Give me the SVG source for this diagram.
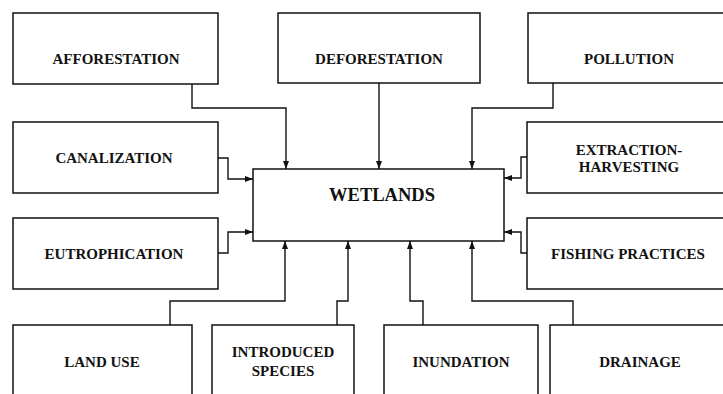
<svg xmlns="http://www.w3.org/2000/svg" width="723" height="394" viewBox="0 0 723 394">
<defs>
<marker id="arr" markerUnits="userSpaceOnUse" markerWidth="8" markerHeight="6" refX="8" refY="3" orient="auto">
<path d="M0,0 L8,3 L0,6 z" fill="#111"/>
</marker>
<style>
.box{fill:#fff;stroke:#111;stroke-width:1.5}
.lbl{font-family:"Liberation Serif","Times New Roman",serif;font-weight:bold;font-size:15px;fill:#111;text-anchor:middle}
.big{font-size:18.5px}
.con{fill:none;stroke:#111;stroke-width:1.4;marker-end:url(#arr)}
</style>
</defs>
<rect width="723" height="394" fill="#fff"/>
<g id="connectors">
<path class="con" d="M192,84 V108 H286 V169"/>
<path class="con" d="M379,83 V169"/>
<path class="con" d="M553,83 V108 H472 V169"/>
<path class="con" d="M218,158 H228 V179 H253"/>
<path class="con" d="M218,253 H228 V232 H253"/>
<path class="con" d="M527,157 H521 V178 H504"/>
<path class="con" d="M527,253 H521 V232 H504"/>
<path class="con" d="M170,325 V301 H285 V241"/>
<path class="con" d="M337,325 V301 H348 V241"/>
<path class="con" d="M423,325 V301 H410 V241"/>
<path class="con" d="M573,325 V301 H472 V241"/>
</g>
<g id="wetlands"><rect class="box" x="253" y="169" width="251" height="72"/><text class="lbl big" x="382" y="201">WETLANDS</text></g>
<g id="afforestation"><rect class="box" x="13" y="13" width="205" height="71"/><text class="lbl" x="116" y="64">AFFORESTATION</text></g>
<g id="deforestation"><rect class="box" x="278" y="13" width="202" height="70"/><text class="lbl" x="379" y="64">DEFORESTATION</text></g>
<g id="pollution"><rect class="box" x="528" y="13" width="205" height="70"/><text class="lbl" x="629" y="64">POLLUTION</text></g>
<g id="canalization"><rect class="box" x="13" y="122" width="205" height="71"/><text class="lbl" x="114" y="163">CANALIZATION</text></g>
<g id="extraction"><rect class="box" x="527" y="122" width="206" height="71"/><text class="lbl" x="629" y="155">EXTRACTION-</text><text class="lbl" x="629" y="172">HARVESTING</text></g>
<g id="eutrophication"><rect class="box" x="13" y="218" width="205" height="71"/><text class="lbl" x="114" y="259">EUTROPHICATION</text></g>
<g id="fishing"><rect class="box" x="527" y="218" width="206" height="71"/><text class="lbl" x="628" y="259">FISHING PRACTICES</text></g>
<g id="landuse"><rect class="box" x="13" y="325" width="179" height="80"/><text class="lbl" x="102" y="367">LAND USE</text></g>
<g id="introduced"><rect class="box" x="212" y="325" width="142" height="80"/><text class="lbl" x="283" y="357">INTRODUCED</text><text class="lbl" x="283" y="376">SPECIES</text></g>
<g id="inundation"><rect class="box" x="384" y="325" width="154" height="80"/><text class="lbl" x="461" y="367">INUNDATION</text></g>
<g id="drainage"><rect class="box" x="550" y="325" width="183" height="80"/><text class="lbl" x="640" y="367">DRAINAGE</text></g>
</svg>
